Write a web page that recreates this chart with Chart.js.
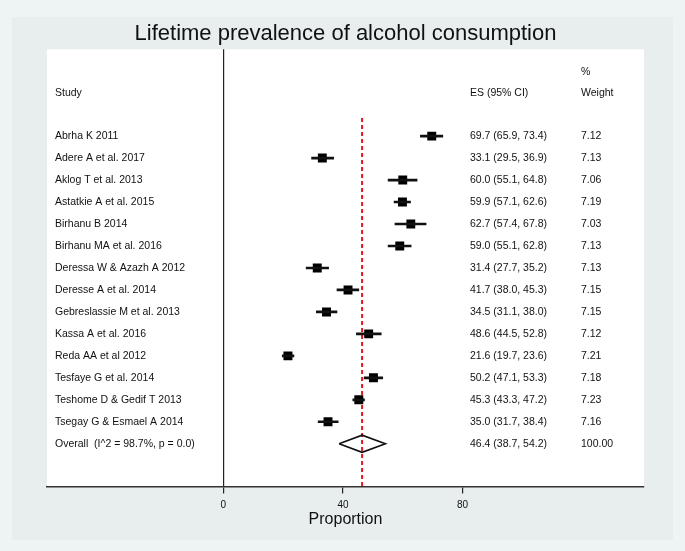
<!DOCTYPE html>
<html>
<head>
<meta charset="utf-8">
<script src="https://cdn.jsdelivr.net/npm/chart.js@4"></script>
<style>
  html, body { margin: 0; padding: 0; background: #eaf0f0; }
  canvas { display: block; }
</style>
</head>
<body>
<canvas id="forest" width="685" height="551"></canvas>
<script>
var studies = [
    'Abrha K 2011', 'Adere A et al. 2017', 'Aklog T et al. 2013', 'Astatkie A et al. 2015',
    'Birhanu B 2014', 'Birhanu MA et al. 2016', 'Deressa W & Azazh A 2012', 'Deresse A et al. 2014',
    'Gebreslassie M et al. 2013', 'Kassa A et al. 2016', 'Reda AA et al 2012', 'Tesfaye G et al. 2014',
    'Teshome D & Gedif T 2013', 'Tsegay G & Esmael A 2014'
];
var es = [69.7, 33.1, 60.0, 59.9, 62.7, 59.0, 31.4, 41.7, 34.5, 48.6, 21.6, 50.2, 45.3, 35.0];
var lo = [65.9, 29.5, 55.1, 57.1, 57.4, 55.1, 27.7, 38.0, 31.1, 44.5, 19.7, 47.1, 43.3, 31.7];
var hi = [73.4, 36.9, 64.8, 62.6, 67.8, 62.8, 35.2, 45.3, 38.0, 52.8, 23.6, 53.3, 47.2, 38.4];
var weights = ['7.12', '7.13', '7.06', '7.19', '7.03', '7.13', '7.13', '7.15', '7.15', '7.12', '7.21', '7.18', '7.23', '7.16'];
var overallLabel = 'Overall  (I^2 = 98.7%, p = 0.0)';
var overall = { es: 46.4, lo: 38.7, hi: 54.2, weight: '100.00' };
var xTicks = [0, 40, 80];

(function () {
    var family = '"Liberation Sans", Arial, sans-serif';
    var font = '10.5px ' + family;
    var n = studies.length;

    function fmt(e, l, h) {
        return e.toFixed(1) + ' (' + l.toFixed(1) + ', ' + h.toFixed(1) + ')';
    }

    // white panel + the text columns
    var panel = {
        id: 'panel',
        beforeDraw: function (chart) {
            var ctx = chart.ctx, a = chart.chartArea;
            ctx.save();
            ctx.fillStyle = '#eef3f3';
            ctx.fillRect(0, 0, chart.width, chart.height);
            ctx.fillStyle = '#e8eeee';
            ctx.fillRect(12, 17, chart.width - 24, chart.height - 28);
            ctx.fillStyle = '#ffffff';
            ctx.fillRect(a.left, a.top, a.right - a.left, a.bottom - a.top);
            ctx.restore();
        },
        afterDraw: function (chart) {
            var ctx = chart.ctx, y = chart.scales.y;
            ctx.save();
            ctx.font = font;
            ctx.fillStyle = '#111';
            ctx.textBaseline = 'middle';
            ctx.textAlign = 'left';
            ctx.fillText('%', 581, y.getPixelForValue(-2.93));
            ctx.fillText('Study', 55, y.getPixelForValue(-1.95));
            ctx.fillText('ES (95% CI)', 470, y.getPixelForValue(-1.95));
            ctx.fillText('Weight', 581, y.getPixelForValue(-1.95));
            for (var i = 0; i < n; i++) {
                var py = y.getPixelForValue(i);
                ctx.fillText(studies[i], 55, py);
                ctx.fillText(fmt(es[i], lo[i], hi[i]), 470, py);
                ctx.fillText(weights[i], 581, py);
            }
            var oy = y.getPixelForValue(n);
            ctx.fillText(overallLabel, 55, oy);
            ctx.fillText(fmt(overall.es, overall.lo, overall.hi), 470, oy);
            ctx.fillText(overall.weight, 581, oy);
            ctx.restore();
        }
    };

    var ciData = studies.map(function (s, i) { return { x: [lo[i], hi[i]], y: i }; });
    var esData = studies.map(function (s, i) { return { x: es[i], y: i }; });
    var sizes = weights.map(function (w) { return 6.3 * Math.sqrt(parseFloat(w) / 7.12); });
    var dh = 0.39;
    var diamond = [
        { x: overall.lo, y: n }, { x: overall.es, y: n - dh },
        { x: overall.hi, y: n }, { x: overall.es, y: n + dh }, { x: overall.lo, y: n }
    ];

    new Chart(document.getElementById('forest'), {
        type: 'scatter',
        data: {
            datasets: [
                {
                    type: 'bar', indexAxis: 'y', data: ciData,
                    backgroundColor: '#111', borderWidth: 0, barThickness: 2
                },
                {
                    data: esData, pointStyle: 'rect', pointRadius: sizes,
                    backgroundColor: '#000', borderWidth: 0
                },
                {
                    data: diamond, showLine: true, borderColor: '#111', borderWidth: 1.6,
                    pointRadius: 0, fill: false, tension: 0
                },
                {
                    data: [{ x: overall.es, y: -0.82 }, { x: overall.es, y: 15.94 }],
                    showLine: true, borderColor: '#e5161c', borderWidth: 2, borderDash: [4, 3],
                    pointRadius: 0
                }
            ]
        },
        options: {
            responsive: false,
            animation: false,
            devicePixelRatio: 1,
            layout: { padding: { left: 47, right: 41, top: 0, bottom: 24.0 } },
            plugins: {
                legend: { display: false },
                tooltip: { enabled: false },
                title: {
                    display: true,
                    text: 'Lifetime prevalence of alcohol consumption',
                    color: '#111',
                    font: { family: family, size: 22, weight: 'normal', lineHeight: 1.2 },
                    padding: { top: 21.1, bottom: 1.8 }
                }
            },
            scales: {
                x: {
                    type: 'linear',
                    min: -59,
                    max: 140.7,
                    offset: false,
                    afterBuildTicks: function (scale) {
                        scale.ticks = xTicks.map(function (v) { return { value: v }; });
                    },
                    grid: {
                        offset: false,
                        color: function (c) { return c.tick && c.tick.value === 0 ? '#222' : 'rgba(0,0,0,0)'; },
                        lineWidth: 1.2,
                        tickColor: '#222',
                        tickLength: 7
                    },
                    border: { display: true, color: '#333', width: 1.5 },
                    ticks: {
                        color: '#111', padding: 5.6,
                        font: { family: family, size: 10 }
                    },
                    title: {
                        display: true, text: 'Proportion', color: '#111',
                        font: { family: family, size: 16, lineHeight: 0.4 },
                        padding: { top: 0, bottom: 4 }
                    }
                },
                y: {
                    type: 'linear',
                    display: false,
                    reverse: true,
                    offset: false,
                    grid: { offset: false },
                    min: -3.95,
                    max: 15.94
                }
            }
        },
        plugins: [panel]
    });
})();
</script>
</body>
</html>
